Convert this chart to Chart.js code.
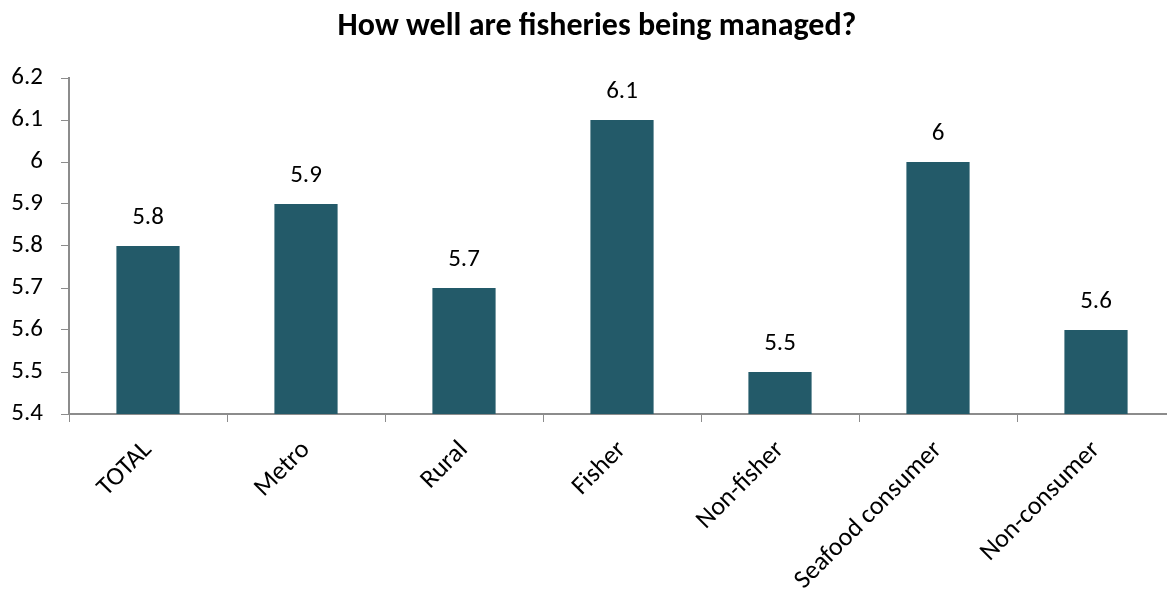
<!DOCTYPE html>
<html>
<head>
<meta charset="utf-8">
<script src="https://cdn.jsdelivr.net/npm/chart.js@4/dist/chart.umd.min.js"></script>
<style>
html,body{margin:0;padding:0;background:#fff;overflow:hidden;}
#wrap{width:1190px;height:590px;position:relative;}
</style>
</head>
<body>
<div id="wrap"><canvas id="c" width="1190" height="590"></canvas></div>
<script>
const categories = ["TOTAL","Metro","Rural","Fisher","Non-fisher","Seafood consumer","Non-consumer"];
const values = [5.8,5.9,5.7,6.1,5.5,6.0,5.6];
const yMin = 5.4, yMax = 6.2, yStep = 0.1;
const titleText = "How well are fisheries being managed?";
const FONT = "Carlito, Calibri, Lato, 'Open Sans', sans-serif";
const fmt = v => String(Number(v.toFixed(1)));

const labelPlugin = {
  id:'barLabels',
  afterDatasetsDraw(chart){
    const ctx = chart.ctx;
    const meta = chart.getDatasetMeta(0);
    ctx.save();
    ctx.font = "25px " + FONT;
    ctx.fillStyle = "#000";
    ctx.textAlign = "center";
    ctx.textBaseline = "middle";
    meta.data.forEach((bar,i)=>{
      ctx.fillText(fmt(values[i]), bar.x, bar.y - 28);
    });
    ctx.restore();
  }
};

const titlePlugin = {
  id:'chartTitle',
  afterDraw(chart){
    const ctx = chart.ctx;
    ctx.save();
    ctx.font = "bold 32px " + FONT;
    ctx.fillStyle = "#000";
    ctx.textAlign = "center";
    ctx.textBaseline = "middle";
    ctx.fillText(titleText, 597, 27);
    ctx.restore();
  }
};

new Chart(document.getElementById('c'), {
  type:'bar',
  data:{labels:categories, datasets:[{data:values, backgroundColor:'#235a69', borderWidth:0, barPercentage:0.4, categoryPercentage:1}]},
  options:{
    responsive:false, animation:false,
    layout:{padding:{left:0,right:15,top:78,bottom:0}},
    plugins:{
      legend:{display:false}, tooltip:{enabled:false}, title:{display:false}
    },
    scales:{
      x:{
        offset:true,
        grid:{display:true, offset:true, drawOnChartArea:false, drawTicks:true, tickLength:8, color:'#8c8c8c'},
        border:{color:'#8c8c8c', width:2},
        ticks:{color:'#000', font:{family:FONT, size:26}, maxRotation:45, minRotation:45, padding:13},
        afterFit(s){ s.height = 176; }
      },
      y:{
        min:yMin, max:yMax,
        grid:{display:true, drawOnChartArea:false, drawTicks:true, tickLength:8, color:'#8c8c8c'},
        border:{color:'#8c8c8c', width:2},
        ticks:{stepSize:yStep, color:'#000', font:{family:FONT, size:25}, padding:18, callback:v=>fmt(v)},
        afterFit(s){ s.width = 69; }
      }
    }
  },
  plugins:[labelPlugin, titlePlugin]
});
</script>
</body>
</html>
